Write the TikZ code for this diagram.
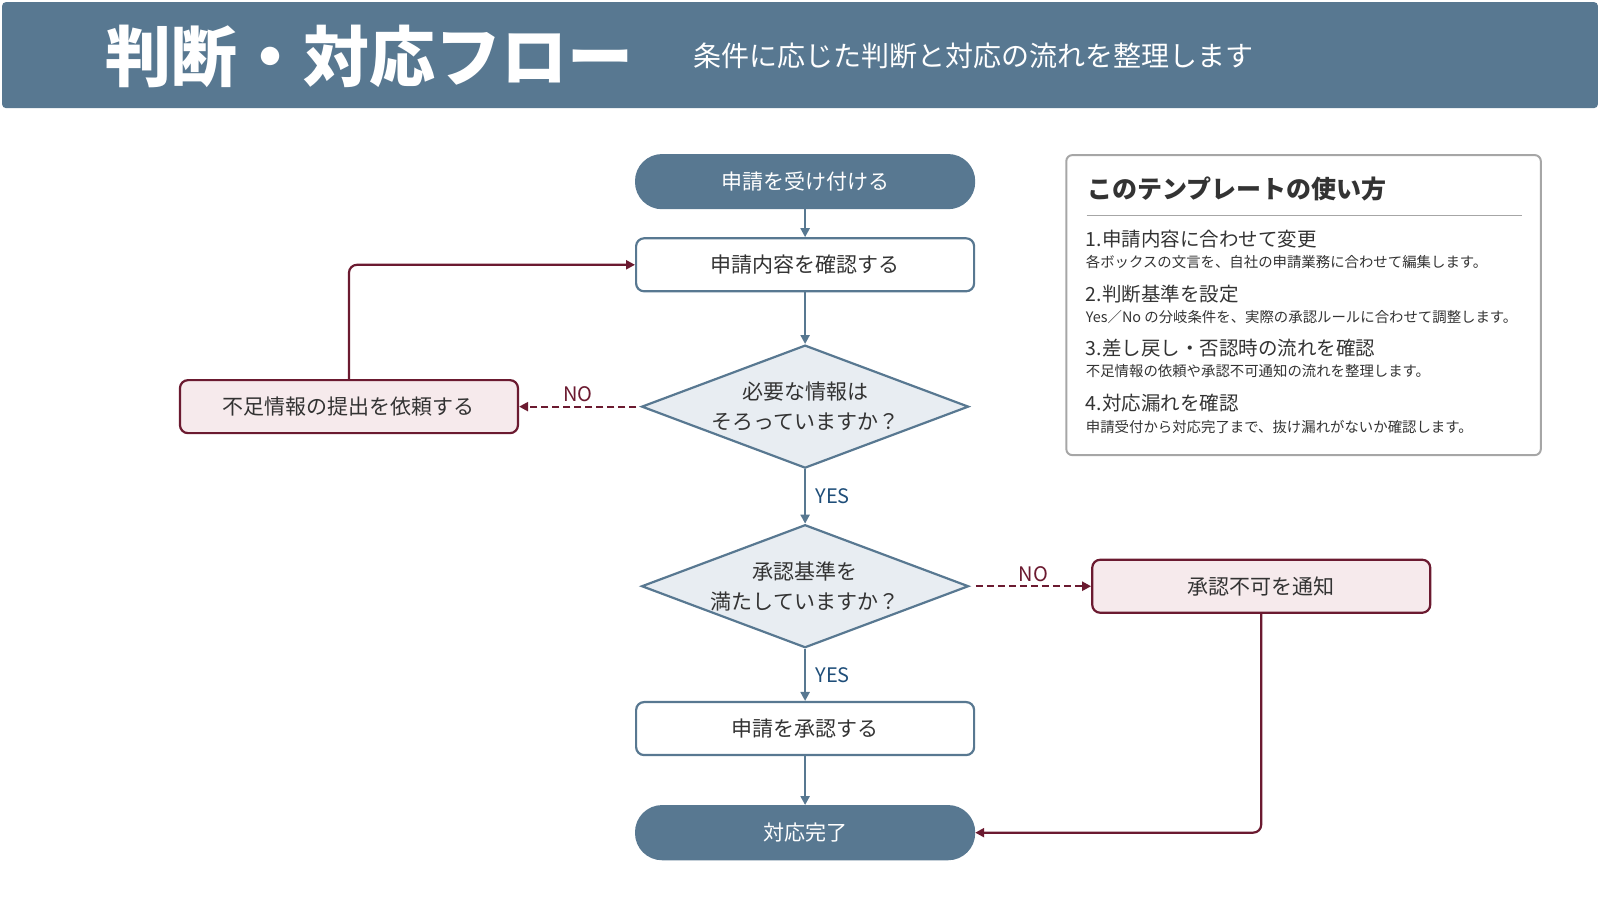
\documentclass[tikz,border=0pt]{standalone}
\usepackage{fontspec}
\setmainfont{Noto Sans CJK JP}
\usetikzlibrary{shapes.geometric,arrows.meta,positioning}
\definecolor{slate}{HTML}{587891}
\definecolor{wine}{HTML}{6B1A30}
\definecolor{pale}{HTML}{E8EDF2}
\definecolor{rose}{HTML}{F6EAEC}
\definecolor{ink}{HTML}{333333}
\definecolor{navy}{HTML}{1F4E79}
\tikzset{
  box/.style={rectangle, rounded corners=8pt, draw=slate, line width=2.2pt, fill=white, minimum width=338pt, minimum height=53pt, text=ink, font=\fontsize{21}{24}\selectfont},
  term/.style={box, rounded corners=26pt, fill=slate, text=white},
  alt/.style={box, draw=wine, fill=rose},
  dec/.style={diamond, draw=slate, line width=2.2pt, fill=pale, minimum width=327pt, minimum height=123pt, shape aspect=2.66, inner sep=0pt, align=center, text=ink, font=\fontsize{21}{30}\selectfont},
  flow/.style={-{Triangle[length=9pt,width=9pt]}, slate, line width=2.2pt},
  back/.style={-{Triangle[length=9pt,width=9pt]}, wine, line width=2.2pt, rounded corners=8pt},
  nope/.style={back, dash pattern=on 7pt off 4pt},
  tag/.style={font=\fontsize{20}{22}\selectfont}
}
\begin{document}
\begin{tikzpicture}[x=1.0204pt, y=-1.0204pt]
\useasboundingbox (0,0) rectangle (1568,882);
% header
\fill[slate, rounded corners=4pt] (2,2) rectangle (1566,106);
\node[anchor=west, text=white, font=\fontsize{66}{72}\selectfont\bfseries] (title) at (100,55) {判断・対応フロー};
\node[anchor=west, text=white, font=\fontsize{28}{32}\selectfont] (sub) at (676,55) {条件に応じた判断と対応の流れを整理します};

% flow
\node[term] (start) at (789,178) {申請を受け付ける};
\node[box] (check) at (789,259.5) {申請内容を確認する};
\node[dec] (info) at (789,398.5) {必要な情報は\\そろっていますか？};
\node[alt] (ask) at (342,398.5) {不足情報の提出を依頼する};
\node[dec] (rule) at (789,574.5) {承認基準を\\満たしていますか？};
\node[alt] (deny) at (1236,574.5) {承認不可を通知};
\node[box] (ok) at (789,714) {申請を承認する};
\node[term] (done) at (789,816) {対応完了};

\draw[flow] (start) -- (check);
\draw[flow] (check) -- (info);
\draw[flow] (info) -- node[right=6pt, tag, text=navy] {YES} (rule);
\draw[flow] (rule) -- node[right=6pt, tag, text=navy] {YES} (ok);
\draw[flow] (ok) -- (done);
\draw[nope] (info.west) ++(-4,0) coordinate (infoL) (infoL) -- node[above, tag, text=wine] {NO} (ask.east);
\draw[nope] (rule.east) ++(6,0) coordinate (ruleR) (ruleR) -- node[above, tag, text=wine] {NO} (deny.west);
\draw[back] (ask.north) |- (check.west);
\draw[back] (deny.south) |- (done.east);

% how to use
\draw[line width=2pt, draw=gray!70, rounded corners=6pt] (1045,152) rectangle (1510,446);
\node[anchor=west, text=ink, font=\fontsize{25}{28}\selectfont\bfseries] (howto) at (1062,185) {このテンプレートの使い方};
\draw[gray!70, line width=1.2pt] (1065,211) -- (1492,211);
\foreach \y/\head/\desc in {
  234/1.申請内容に合わせて変更/各ボックスの文言を、自社の申請業務に合わせて編集します。,
  288/2.判断基準を設定/Yes／No の分岐条件を、実際の承認ルールに合わせて調整します。,
  341/3.差し戻し・否認時の流れを確認/不足情報の依頼や承認不可通知の流れを整理します。,
  395/4.対応漏れを確認/申請受付から対応完了まで、抜け漏れがないか確認します。}{
  \node[anchor=west, inner sep=0pt, text=ink, font=\fontsize{19.5}{22}\selectfont] at (1064,\y) {\head};
  \node[anchor=west, inner sep=0pt, text=ink, font=\fontsize{14.4}{16}\selectfont] at (1064,\y+23) {\desc};
}
\end{tikzpicture}
\end{document}
